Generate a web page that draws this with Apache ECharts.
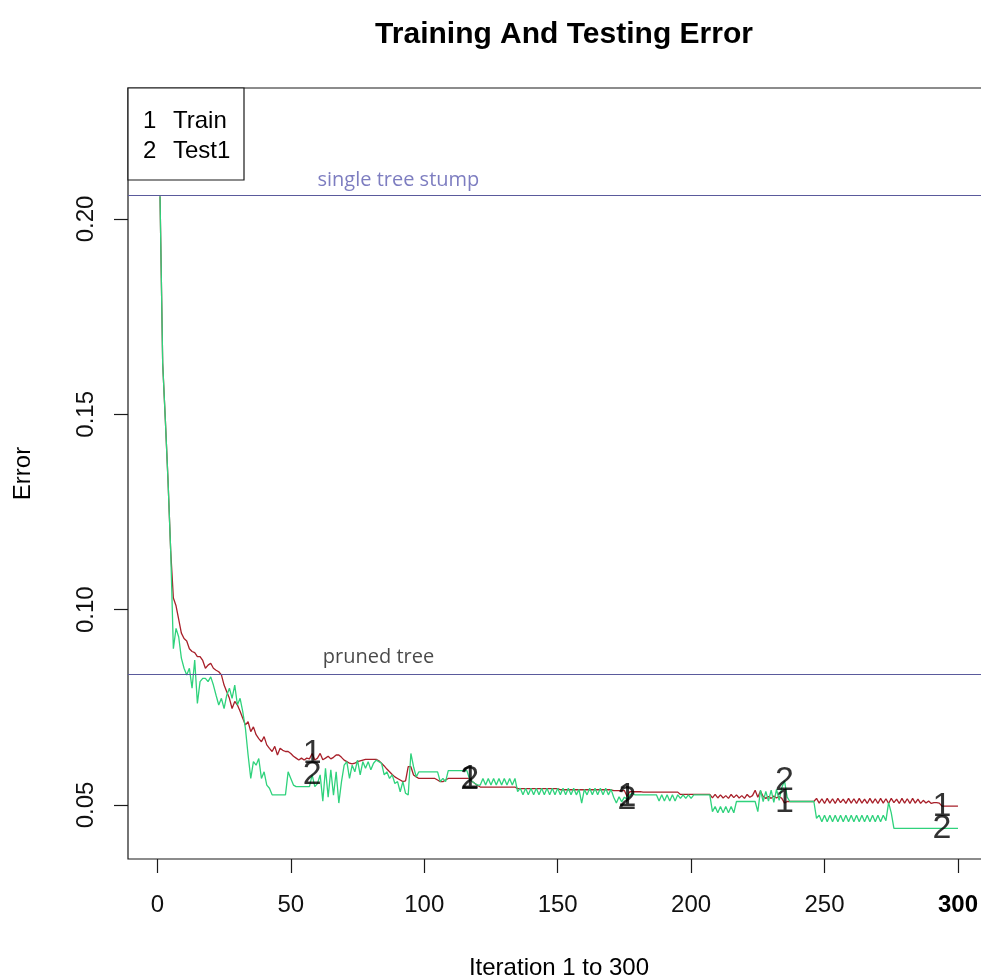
<!DOCTYPE html>
<html>
<head>
<meta charset="utf-8">
<title>Training And Testing Error</title>
<script src="https://cdn.jsdelivr.net/npm/echarts@6/dist/echarts.min.js"></script>
<style>
  html, body { margin: 0; padding: 0; background: #fff; }
  #chart { width: 981px; height: 980px; }
</style>
</head>
<body>
<div id="chart"></div>
<script>
// Boosting error per iteration (1..300)
const trainError = [
  0.2058, 0.1630, 0.1485, 0.1330, 0.1150, 0.1030, 0.1010, 0.0975, 0.0940, 0.0926,
  0.0920, 0.0900, 0.0893, 0.0890, 0.0880, 0.0880, 0.0870, 0.0850, 0.0858, 0.0863,
  0.0850, 0.0845, 0.0841, 0.0833, 0.0807, 0.0790, 0.0773, 0.0747, 0.0765, 0.0756,
  0.0740, 0.0722, 0.0705, 0.0713, 0.0688, 0.0700, 0.0680, 0.0670, 0.0662, 0.0675,
  0.0654, 0.0645, 0.0637, 0.0650, 0.0628, 0.0645, 0.0640, 0.0637, 0.0637, 0.0632,
  0.0625, 0.0620, 0.0615, 0.0620, 0.0615, 0.0620, 0.0618, 0.0632, 0.0615, 0.0620,
  0.0632, 0.0616, 0.0620, 0.0625, 0.0618, 0.0622, 0.0628, 0.0628, 0.0622, 0.0615,
  0.0611, 0.0607, 0.0605, 0.0607, 0.0611, 0.0613, 0.0615, 0.0617, 0.0617, 0.0617,
  0.0617, 0.0617, 0.0613, 0.0607, 0.0600, 0.0592, 0.0585, 0.0578, 0.0572, 0.0568,
  0.0564, 0.0560, 0.0562, 0.0598, 0.0598, 0.0577, 0.0572, 0.0568, 0.0568, 0.0568,
  0.0568, 0.0568, 0.0568, 0.0568, 0.0564, 0.0560, 0.0560, 0.0564, 0.0568, 0.0568,
  0.0568, 0.0568, 0.0568, 0.0568, 0.0568, 0.0568, 0.0568, 0.0560, 0.0555, 0.0550,
  0.0546, 0.0546, 0.0546, 0.0546, 0.0546, 0.0546, 0.0546, 0.0546, 0.0546, 0.0546,
  0.0546, 0.0546, 0.0546, 0.0546, 0.0542, 0.0542, 0.0542, 0.0542, 0.0542, 0.0542,
  0.0542, 0.0542, 0.0542, 0.0542, 0.0542, 0.0542, 0.0542, 0.0542, 0.0542, 0.0542,
  0.0539, 0.0539, 0.0539, 0.0539, 0.0539, 0.0539, 0.0539, 0.0539, 0.0539, 0.0539,
  0.0539, 0.0539, 0.0539, 0.0539, 0.0539, 0.0539, 0.0539, 0.0539, 0.0539, 0.0539,
  0.0537, 0.0537, 0.0537, 0.0537, 0.0537, 0.0522, 0.0534, 0.0534, 0.0534, 0.0534,
  0.0534, 0.0533, 0.0533, 0.0533, 0.0533, 0.0533, 0.0533, 0.0533, 0.0533, 0.0533,
  0.0533, 0.0533, 0.0533, 0.0533, 0.0533, 0.0527, 0.0527, 0.0527, 0.0527, 0.0527,
  0.0527, 0.0527, 0.0527, 0.0527, 0.0527, 0.0527, 0.0527, 0.0518, 0.0527, 0.0518,
  0.0526, 0.0518, 0.0524, 0.0517, 0.0527, 0.0519, 0.0526, 0.0518, 0.0524, 0.0517,
  0.0527, 0.0520, 0.0524, 0.0538, 0.0520, 0.0536, 0.0522, 0.0517, 0.0522, 0.0517,
  0.0523, 0.0518, 0.0522, 0.0517, 0.0505, 0.0509, 0.0509, 0.0509, 0.0509, 0.0509,
  0.0509, 0.0509, 0.0509, 0.0509, 0.0509, 0.0509, 0.0517, 0.0505, 0.0516, 0.0504,
  0.0517, 0.0505, 0.0516, 0.0504, 0.0517, 0.0506, 0.0515, 0.0504, 0.0517, 0.0505,
  0.0516, 0.0504, 0.0517, 0.0505, 0.0515, 0.0504, 0.0517, 0.0505, 0.0516, 0.0504,
  0.0517, 0.0505, 0.0516, 0.0504, 0.0517, 0.0506, 0.0515, 0.0504, 0.0517, 0.0505,
  0.0516, 0.0504, 0.0517, 0.0505, 0.0515, 0.0504, 0.0512, 0.0505, 0.0510, 0.0504,
  0.0506, 0.0506, 0.0505, 0.0497, 0.0497, 0.0497, 0.0497, 0.0497, 0.0497, 0.0497
];

const testError = [
  0.2058, 0.1630, 0.1485, 0.1330, 0.1150, 0.0900, 0.0952, 0.0930, 0.0876, 0.0850,
  0.0833, 0.0850, 0.0799, 0.0871, 0.0760, 0.0816, 0.0824, 0.0824, 0.0816, 0.0828,
  0.0807, 0.0781, 0.0756, 0.0773, 0.0747, 0.0781, 0.0799, 0.0773, 0.0807, 0.0756,
  0.0773, 0.0739, 0.0696, 0.0628, 0.0568, 0.0611, 0.0602, 0.0619, 0.0568, 0.0585,
  0.0551, 0.0543, 0.0526, 0.0526, 0.0526, 0.0526, 0.0526, 0.0526, 0.0585, 0.0568,
  0.0551, 0.0547, 0.0547, 0.0547, 0.0547, 0.0547, 0.0547, 0.0577, 0.0547, 0.0555,
  0.0577, 0.0510, 0.0594, 0.0520, 0.0590, 0.0525, 0.0585, 0.0505, 0.0560, 0.0602,
  0.0611, 0.0568, 0.0602, 0.0585, 0.0615, 0.0577, 0.0611, 0.0594, 0.0611, 0.0590,
  0.0607, 0.0615, 0.0611, 0.0607, 0.0577, 0.0585, 0.0568, 0.0577, 0.0555, 0.0560,
  0.0534, 0.0560, 0.0530, 0.0526, 0.0632, 0.0598, 0.0572, 0.0585, 0.0585, 0.0585,
  0.0585, 0.0585, 0.0585, 0.0585, 0.0585, 0.0560, 0.0568, 0.0560, 0.0588, 0.0588,
  0.0588, 0.0588, 0.0588, 0.0588, 0.0588, 0.0588, 0.0566, 0.0560, 0.0555, 0.0551,
  0.0551, 0.0568, 0.0551, 0.0568, 0.0551, 0.0568, 0.0551, 0.0568, 0.0551, 0.0568,
  0.0551, 0.0568, 0.0551, 0.0568, 0.0534, 0.0543, 0.0526, 0.0543, 0.0526, 0.0543,
  0.0526, 0.0543, 0.0526, 0.0543, 0.0526, 0.0543, 0.0526, 0.0543, 0.0526, 0.0543,
  0.0526, 0.0543, 0.0526, 0.0543, 0.0526, 0.0543, 0.0526, 0.0540, 0.0505, 0.0540,
  0.0526, 0.0543, 0.0526, 0.0543, 0.0526, 0.0543, 0.0526, 0.0543, 0.0526, 0.0540,
  0.0520, 0.0505, 0.0521, 0.0508, 0.0520, 0.0515, 0.0526, 0.0530, 0.0526, 0.0526,
  0.0526, 0.0526, 0.0526, 0.0526, 0.0526, 0.0526, 0.0526, 0.0510, 0.0526, 0.0510,
  0.0526, 0.0510, 0.0526, 0.0510, 0.0526, 0.0517, 0.0526, 0.0517, 0.0526, 0.0517,
  0.0526, 0.0526, 0.0526, 0.0526, 0.0526, 0.0526, 0.0526, 0.0483, 0.0496, 0.0480,
  0.0496, 0.0480, 0.0496, 0.0480, 0.0496, 0.0480, 0.0509, 0.0509, 0.0509, 0.0509,
  0.0509, 0.0509, 0.0509, 0.0509, 0.0483, 0.0538, 0.0509, 0.0535, 0.0510, 0.0538,
  0.0507, 0.0540, 0.0512, 0.0545, 0.0562, 0.0520, 0.0509, 0.0509, 0.0509, 0.0509,
  0.0509, 0.0509, 0.0509, 0.0509, 0.0509, 0.0509, 0.0466, 0.0474, 0.0457, 0.0474,
  0.0457, 0.0474, 0.0457, 0.0474, 0.0457, 0.0474, 0.0457, 0.0474, 0.0457, 0.0474,
  0.0457, 0.0474, 0.0457, 0.0474, 0.0457, 0.0474, 0.0457, 0.0474, 0.0457, 0.0474,
  0.0457, 0.0474, 0.0460, 0.0506, 0.0480, 0.0440, 0.0440, 0.0440, 0.0440, 0.0440,
  0.0440, 0.0440, 0.0440, 0.0440, 0.0440, 0.0440, 0.0440, 0.0440, 0.0440, 0.0440,
  0.0440, 0.0440, 0.0440, 0.0440, 0.0440, 0.0440, 0.0440, 0.0440, 0.0440, 0.0440
];

// Reference errors of simpler models
const stumpError = 0.2060;
const prunedError = 0.0835;

// Iterations where the series numbers are written on the curves
const labelIterations = [58, 117, 176, 235, 294];

// Axis ticks
const xTicks = [0, 50, 100, 150, 200, 250, 300];
const yTicks = [0.05, 0.10, 0.15, 0.20];

const FONT = "'Liberation Sans', Arial, sans-serif";
const NOTE_FONT = "'Open Sans', 'Noto Sans', sans-serif";
const TRAIN_COLOR = '#a8202a';
const TEST_COLOR = '#2fd27c';

const iterations = trainError.map((_, k) => k + 1);
const toPairs = (arr) => iterations.map((it, k) => [it, arr[k]]);
const labelPoints = (arr) => labelIterations.map(it => [it, arr[it - 1]]);

const chart = echarts.init(document.getElementById('chart'), null, { renderer: 'canvas' });

chart.setOption({
  animation: false,
  backgroundColor: '#ffffff',
  title: {
    text: 'Training And Testing Error',
    left: 559,
    top: 15,
    textAlign: 'center',
    textStyle: { fontFamily: FONT, fontSize: 30, fontWeight: 'bold', color: '#000' }
  },
  grid: {
    left: 128,
    top: 88,
    right: -9,
    bottom: 121,
    outerBoundsMode: 'none',
    containLabel: false,
    show: true,
    borderColor: '#1a1a1a',
    borderWidth: 1.2,
    backgroundColor: 'transparent'
  },
  xAxis: {
    type: 'value',
    min: -11,
    max: 312,
    name: 'Iteration 1 to 300',
    nameLocation: 'middle',
    nameGap: 97,
    nameTextStyle: { fontFamily: FONT, fontSize: 24, color: '#000' },
    axisLine: { show: false, onZero: false },
    axisTick: { show: true, length: 14, customValues: xTicks, lineStyle: { color: '#1a1a1a', width: 1.2 } },
    axisLabel: {
      customValues: xTicks,
      margin: 34,
      fontFamily: FONT,
      fontSize: 24,
      color: '#111',
      formatter: (v) => v === 300 ? '{b|300}' : String(v),
      rich: { b: { fontFamily: FONT, fontSize: 24, fontWeight: 'bold', color: '#000' } }
    },
    splitLine: { show: false }
  },
  yAxis: {
    type: 'value',
    min: 0.03618,
    max: 0.23353,
    name: 'Error',
    nameLocation: 'middle',
    nameGap: 93,
    nameRotate: 90,
    nameTextStyle: { fontFamily: FONT, fontSize: 24, color: '#000' },
    axisLine: { show: false, onZero: false },
    axisTick: { show: true, length: 14, customValues: yTicks, lineStyle: { color: '#1a1a1a', width: 1.2 } },
    axisLabel: {
      customValues: yTicks,
      rotate: 90,
      margin: 30,
      fontFamily: FONT,
      fontSize: 24,
      color: '#111',
      formatter: (v) => v.toFixed(2)
    },
    splitLine: { show: false }
  },
  graphic: [
    {
      type: 'rect',
      shape: { x: 128, y: 88, width: 116, height: 92 },
      style: { fill: '#fff', stroke: '#1a1a1a', lineWidth: 1.2 },
      z: 10
    },
    { type: 'text', x: 143, y: 121, style: { text: '1', font: "24px " + FONT, fill: '#000', textVerticalAlign: 'middle' }, z: 11 },
    { type: 'text', x: 173, y: 121, style: { text: 'Train', font: "24px " + FONT, fill: '#000', textVerticalAlign: 'middle' }, z: 11 },
    { type: 'text', x: 143, y: 151, style: { text: '2', font: "24px " + FONT, fill: '#000', textVerticalAlign: 'middle' }, z: 11 },
    { type: 'text', x: 173, y: 151, style: { text: 'Test1', font: "24px " + FONT, fill: '#000', textVerticalAlign: 'middle' }, z: 11 }
  ],
  series: [
    {
      name: 'Train',
      type: 'line',
      data: toPairs(trainError),
      showSymbol: false,
      symbol: 'none',
      lineStyle: { color: TRAIN_COLOR, width: 1.3 },
      emphasis: { disabled: true },
      z: 3,
      markLine: {
        silent: true,
        symbol: 'none',
        precision: 4,
        label: { show: false },
        lineStyle: { color: '#5a5a9c', width: 1.2, type: 'solid' },
        data: [{ yAxis: stumpError }, { yAxis: prunedError }]
      }
    },
    {
      name: 'Test1',
      type: 'line',
      data: toPairs(testError),
      showSymbol: false,
      symbol: 'none',
      lineStyle: { color: TEST_COLOR, width: 1.3 },
      emphasis: { disabled: true },
      z: 4
    },
    {
      name: 'Reference notes',
      type: 'scatter',
      symbolSize: 0,
      silent: true,
      z: 5,
      data: [
        {
          value: [60, stumpError],
          label: { show: true, formatter: 'single tree stump', position: [0, -25], color: '#5c5cb0',
                   fontFamily: NOTE_FONT, fontSize: 20 }
        },
        {
          value: [62, prunedError],
          label: { show: true, formatter: 'pruned tree', position: [0, -27], color: '#1a1a1a',
                   fontFamily: NOTE_FONT, fontSize: 20 }
        }
      ]
    },
    {
      name: 'Train label',
      type: 'scatter',
      symbolSize: 0,
      silent: true,
      z: 6,
      data: labelPoints(trainError),
      label: { show: true, position: 'inside', formatter: '1', fontFamily: FONT, fontSize: 34, color: '#000' }
    },
    {
      name: 'Test label',
      type: 'scatter',
      symbolSize: 0,
      silent: true,
      z: 7,
      data: labelPoints(testError),
      label: { show: true, position: 'inside', formatter: '2', fontFamily: FONT, fontSize: 34, color: '#000' }
    }
  ]
});
</script>
</body>
</html>
